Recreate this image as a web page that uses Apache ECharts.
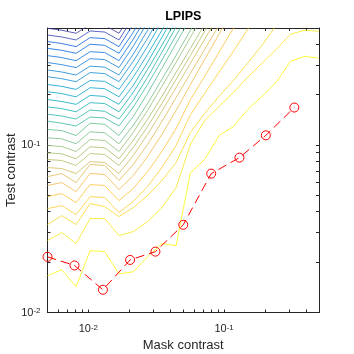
<!DOCTYPE html>
<html>
<head>
<meta charset="utf-8">
<script src="https://cdn.jsdelivr.net/npm/echarts@6/dist/echarts.min.js"></script>
<style>
  html, body { margin: 0; padding: 0; background: #fff; }
  #chart { width: 354px; height: 354px; }
</style>
</head>
<body>
<div id="chart"></div>
<script>
  // contour grid columns (mask contrast)
  var maskGrid = [0.005, 0.00637, 0.00812, 0.0103, 0.0132, 0.0168, 0.0214, 0.0273, 0.0348, 0.0443,
                  0.0565, 0.0719, 0.0917, 0.117, 0.149, 0.190, 0.242, 0.308, 0.393, 0.5];

  // contour lines: test contrast at each grid column, lowest (yellow) line first
  var contour01 = [0.0166, 0.0180, 0.01425, 0.0234, 0.0231, 0.0170, 0.0175, 0.0215, 0.0258, 0.0251, 0.0685, 0.0820, 0.114, 0.129, 0.163, 0.195, 0.237, 0.316, 0.339, 0.330];
  var contour02 = [0.0269, 0.0300, 0.0258, 0.0364, 0.0364, 0.0288, 0.0304, 0.0349, 0.0423, 0.0557, 0.101, 0.140, 0.170, 0.206, 0.254, 0.308, 0.373, 0.459, 0.485, 0.478];
  var contour03 = [0.0335, 0.0379, 0.0335, 0.0447, 0.0429, 0.0374, 0.0423, 0.0499, 0.0614, 0.0786, 0.119, 0.1545, 0.195, 0.243, 0.308, 0.394, 0.519];
  var contour04 = [0.0417, 0.0435, 0.0384, 0.0492, 0.0486, 0.0395, 0.0460, 0.0565, 0.0734, 0.0994, 0.152, 0.2035, 0.272, 0.363, 0.491, 0.656];
  var contour05 = [0.0492, 0.0513, 0.0453, 0.0581, 0.0573, 0.0466, 0.0550, 0.0695, 0.0915, 0.1256, 0.187, 0.257, 0.358, 0.498, 0.693];
  var contour06 = [0.0573, 0.0597, 0.0527, 0.0676, 0.0667, 0.0542, 0.0657, 0.0854, 0.1157, 0.161, 0.230, 0.325, 0.459, 0.647];
  var contour07 = [0.0648, 0.0676, 0.0597, 0.0765, 0.0755, 0.0614, 0.0765, 0.1008, 0.138, 0.1925, 0.268, 0.373, 0.519];
  var contour08 = [0.0734, 0.0724, 0.0676, 0.0797, 0.0786, 0.0676, 0.0866, 0.1157, 0.159, 0.221, 0.308, 0.428, 0.596];
  var contour09 = [0.0820, 0.0808, 0.0755, 0.0890, 0.0878, 0.0755, 0.0967, 0.129, 0.177, 0.247, 0.343, 0.478, 0.665];
  var contour10 = [0.0899, 0.0887, 0.0828, 0.0976, 0.0963, 0.0828, 0.1065, 0.1425, 0.195, 0.272, 0.378, 0.526];
  var contour11 = [0.0994, 0.0980, 0.0915, 0.108, 0.1065, 0.0915, 0.119, 0.161, 0.224, 0.312, 0.440, 0.621];
  var contour12 = [0.1105, 0.109, 0.1018, 0.120, 0.1184, 0.1018, 0.131, 0.177, 0.247, 0.343, 0.485, 0.684];
  var contour13 = [0.124, 0.122, 0.114, 0.135, 0.133, 0.114, 0.148, 0.2035, 0.287, 0.405, 0.572];
  var contour14 = [0.139, 0.135, 0.130, 0.147, 0.145, 0.130, 0.168, 0.230, 0.321, 0.452, 0.638];
  var contour15 = [0.153, 0.149, 0.143, 0.162, 0.159, 0.143, 0.185, 0.254, 0.358, 0.507, 0.713];
  var contour16 = [0.169, 0.165, 0.158, 0.179, 0.177, 0.158, 0.206, 0.283, 0.394, 0.556];
  var contour17 = [0.187, 0.182, 0.175, 0.198, 0.195, 0.175, 0.227, 0.312, 0.440, 0.621];
  var contour18 = [0.208, 0.203, 0.194, 0.220, 0.217, 0.194, 0.254, 0.348, 0.485, 0.684];
  var contour19 = [0.230, 0.224, 0.215, 0.243, 0.240, 0.215, 0.283, 0.389, 0.549];
  var contour20 = [0.256, 0.249, 0.239, 0.271, 0.267, 0.239, 0.316, 0.434, 0.613];
  var contour21 = [0.281, 0.273, 0.262, 0.296, 0.292, 0.262, 0.348, 0.485, 0.684];
  var contour22 = [0.311, 0.302, 0.290, 0.328, 0.324, 0.290, 0.389, 0.541];
  var contour23 = [0.342, 0.333, 0.319, 0.361, 0.357, 0.319, 0.428, 0.596];
  var contour24 = [0.378, 0.368, 0.353, 0.400, 0.394, 0.353, 0.471, 0.656];
  var contour25 = [0.415, 0.404, 0.387, 0.438, 0.432, 0.387, 0.526];
  var contour26 = [0.454, 0.442, 0.424, 0.480, 0.473, 0.424, 0.580];
  var contour27 = [0.498, 0.485, 0.465, 0.526, 0.519, 0.465, 0.638];
  var contours = [contour01, contour02, contour03, contour04, contour05, contour06, contour07, contour08, contour09,
                  contour10, contour11, contour12, contour13, contour14, contour15, contour16, contour17, contour18,
                  contour19, contour20, contour21, contour22, contour23, contour24, contour25, contour26, contour27];

  // measured thresholds (red)
  var maskContrast = [0.005, 0.0079, 0.0128, 0.0203, 0.0312, 0.050, 0.0803, 0.1297, 0.203, 0.329];
  var testContrast = [0.0215, 0.0191, 0.01367, 0.0206, 0.0231, 0.0334, 0.0675, 0.0841, 0.1143, 0.1675];

  var xTicks = [0.005, 0.006, 0.007, 0.008, 0.009, 0.01, 0.02, 0.03, 0.04, 0.05, 0.06, 0.07, 0.08, 0.09,
                0.1, 0.2, 0.3, 0.4, 0.5];
  var yTicks = [0.01, 0.02, 0.03, 0.04, 0.05, 0.06, 0.07, 0.08, 0.09, 0.1, 0.2, 0.3, 0.4, 0.5];
  var xLabels = [0.01, 0.1];
  var yLabels = [0.01, 0.1];

  // parula colours, one per contour level (lowest line first)
  var levelColors = ['#f9fb0e', '#f5eb18', '#f7d826', '#fccd2e', '#ffc337', '#f1b94a', '#e1b952', '#d1bb59', '#b7bd64',
                     '#a5be6b', '#92bf73', '#71bf80', '#59bd8c', '#38b99e', '#25b5a9', '#15b1b4', '#07a9c2', '#06a4ca',
                     '#079ccf', '#108ed2', '#1485d4', '#127dd8', '#0871de', '#0268e1', '#0f5cdd', '#3243ba', '#36369f'];

  var axisColor = '#262626';
  var font = 'Liberation Sans, Arial, Helvetica, sans-serif';
  var log = function (v) { return Math.log10(v); };

  var labelRich = {
    b: { fontSize: 11, fontFamily: font, color: axisColor, verticalAlign: 'bottom', lineHeight: 11, padding: [3, 0, 0, 0] },
    s: { fontSize: 8, fontFamily: font, color: axisColor, verticalAlign: 'top', lineHeight: 8 }
  };
  function powLabel(v) { return '{b|10}{s|' + Math.round(v) + '}'; }

  function frameAxis(pos, ticks, labels, margin, extra) {
    var o = {
      type: 'value', position: pos,
      min: pos === 'bottom' || pos === 'top' ? log(0.005) : log(0.01),
      max: log(0.5),
      nameMoveOverlap: false,
      axisLine: { show: true, onZero: false, lineStyle: { color: axisColor, width: 1 } },
      axisTick: { show: true, inside: true, length: 3, customValues: ticks.map(log), lineStyle: { color: axisColor, width: 1 } },
      axisLabel: labels ? { show: true, customValues: labels.map(log), formatter: powLabel, rich: labelRich, margin: margin } : { show: false },
      splitLine: { show: false }
    };
    for (var k in extra) o[k] = extra[k];
    return o;
  }

  var series = [];
  contours.forEach(function (c, i) {
    var pts = [];
    c.forEach(function (v, j) { pts.push([maskGrid[j], v]); });
    series.push({
      type: 'line', xAxisIndex: 0, yAxisIndex: 0, data: pts, showSymbol: false, silent: true,
      lineStyle: { width: 0.8, color: levelColors[i] }, clip: true
    });
  });
  series.push({
    type: 'line', xAxisIndex: 0, yAxisIndex: 0,
    data: maskContrast.map(function (m, i) { return [m, testContrast[i]]; }),
    symbol: 'circle', symbolSize: 9, showAllSymbol: true,
    lineStyle: { color: '#ff0000', width: 1, type: [9, 5] },
    itemStyle: { color: 'rgba(0,0,0,0)', borderColor: '#ff0000', borderWidth: 1 },
    clip: false, z: 5
  });

  var chart = echarts.init(document.getElementById('chart'), null, { renderer: 'canvas' });
  chart.setOption({
    animation: false,
    backgroundColor: '#fff',
    grid: { left: 47.5, right: 35, top: 28, bottom: 41.5, containLabel: false, outerBoundsMode: 'none' },
    xAxis: [
      { type: 'log', logBase: 10, min: 0.005, max: 0.5, show: false },
      frameAxis('bottom', xTicks, xLabels, 11, {
        name: 'Mask contrast', nameLocation: 'middle', nameGap: 26,
        nameTextStyle: { fontSize: 13, fontFamily: font, color: axisColor }
      }),
      frameAxis('top', xTicks, null, 0, {
        name: 'LPIPS', nameLocation: 'middle', nameGap: 5,
        nameTextStyle: { fontSize: 12.5, fontWeight: 'bold', fontFamily: font, color: '#000' }
      })
    ],
    yAxis: [
      { type: 'log', logBase: 10, min: 0.01, max: 0.5, show: false },
      frameAxis('left', yTicks, yLabels, 7, {
        name: 'Test contrast', nameLocation: 'middle', nameGap: 30, nameRotate: 90,
        nameTextStyle: { fontSize: 13, fontFamily: font, color: axisColor }
      }),
      frameAxis('right', yTicks, null, 0, {})
    ],
    series: series
  });
</script>
</body>
</html>
